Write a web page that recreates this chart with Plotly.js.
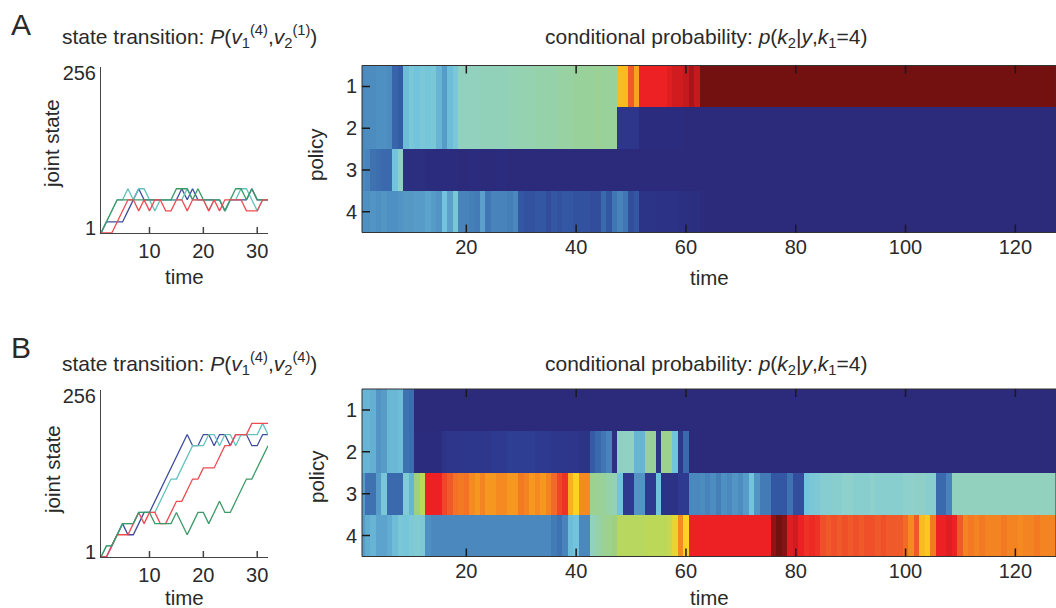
<!DOCTYPE html>
<html><head><meta charset="utf-8">
<script src="https://cdn.plot.ly/plotly-3.0.1.min.js"></script>
<style>html,body{margin:0;padding:0;background:#fff;overflow:hidden}</style></head>
<body><div id="g" style="width:1056px;height:608px"></div>
<script>
const policies = [1,2,3,4];
const time32 = [1,2,3,4,5,6,7,8,9,10,11,12,13,14,15,16,17,18,19,20,21,22,23,24,25,26,27,28,29,30,31,32];
const xTicksLine = [10,20,30];
const xTicksHeat = [20,40,60,80,100,120];
// joint state values
const aBlue  = [1,18,18,18,18,35,52,69,52,52,52,52,52,52,52,69,52,69,52,52,52,52,52,35,52,52,52,52,69,52,52,52];
const aCyan  = [1,18,35,52,52,69,52,69,69,52,35,52,52,52,52,52,69,52,52,52,35,52,52,35,52,52,69,69,52,35,52,52];
const aGreen = [1,18,35,52,52,52,52,52,52,52,52,52,52,52,69,69,69,52,69,52,52,52,52,35,52,69,69,52,69,52,52,52];
const aRed   = [1,1,1,18,35,52,52,35,52,35,52,52,35,35,52,52,35,52,52,52,35,52,35,52,52,52,52,35,35,35,52,52];
// joint state values
const bBlue  = [1,1,18,35,52,35,35,52,69,69,86,103,120,137,154,171,188,171,171,188,188,171,188,188,171,188,188,188,171,171,188,188];
const bCyan  = [1,18,18,35,52,52,52,69,69,69,69,86,103,120,120,137,154,171,171,171,188,188,171,188,188,171,188,188,188,188,205,188];
const bRed   = [1,1,18,35,35,35,52,69,52,69,69,52,52,69,86,86,103,120,120,137,137,137,154,171,171,188,188,188,205,205,205,205];
const bGreen = [1,18,18,35,52,52,52,69,69,69,52,52,52,52,69,52,35,52,69,69,52,69,86,69,69,86,103,120,120,137,154,171];

// conditional probability columns (t = 1..127) on a 0-100 colour index
const aRow1 = [25,26,26,27,27,26,17,15,38,42, 40,42,41,42,36,30,38,42,50,50, 50,50,51,51,51,51,51,52,52,53, 53,53,54,54,54,54,55,55,55,56,
 56,56,56,57,56,56,56,74,74,84, 76,90,90,90,90,90,91,92,92,93, 95,93,100,100,100,100,100,100,100,100, 100,100,100,100,100,100,100,100,100,100,
 100,100,100,100,100,100,100,100,100,100, 100,100,100,100,100,100,100,100,100,100, 100,100,100,100,100,100,100,100,100,100, 100,100,100,100,100,100,100,100,100,100, 100,100,100,100,100,100,100];
const aRow2 = [25,26,26,27,27,26,17,15,38,42, 40,42,41,42,36,30,38,42,50,50, 50,50,51,51,51,51,51,52,52,53, 53,53,54,54,54,54,55,55,55,56,
 56,56,56,57,56,56,56,6,6,6, 6,1,1,1,1,1,1,1,1,0, 0,0,0,0,0,0,0,0,0,0, 0,0,0,0,0,0,0,0,0,0,
 0,0,0,0,0,0,0,0,0,0, 0,0,0,0,0,0,0,0,0,0, 0,0,0,0,0,0,0,0,0,0, 0,0,0,0,0,0,0,0,0,0, 0,0,0,0,0,0,0];
const aRow3 = [25,24,20,19,18,18,40,48,3,2, 2,2,1,1,1,1,1,1,0,0, 1,1,0,0,0,1,1,0,0,0, 0,0,0,0,0,0,0,0,0,0,
 0,0,0,0,0,0,0,0,0,0, 0,0,0,0,0,0,0,0,0,0, 0,0,0,0,0,0,0,0,0,0, 0,0,0,0,0,0,0,0,0,0,
 0,0,0,0,0,0,0,0,0,0, 0,0,0,0,0,0,0,0,0,0, 0,0,0,0,0,0,0,0,0,0, 0,0,0,0,0,0,0,0,0,0, 0,0,0,0,0,0,0];
const aRow4 = [27,27,28,27,28,27,27,28,29,29, 30,30,32,30,28,40,31,42,24,24, 23,22,31,21,24,24,24,23,25,14, 13,13,14,14,12,14,13,14,14,13,
 13,13,12,12,18,14,21,24,21,12, 14,5,5,5,4,4,4,4,3,3, 2,2,1,0,0,0,0,0,0,0, 0,0,0,0,0,0,0,0,0,0,
 0,0,0,0,0,0,0,0,0,0, 0,0,0,0,0,0,0,0,0,0, 0,0,0,0,0,0,0,0,0,0, 0,0,0,0,0,0,0,0,0,0, 0,0,0,0,0,0,0];
const bRow1 = [36,36,35,28,30,37,37,38,20,19, 0,0,0,0,0,0,0,0,0,0, 0,0,0,0,0,0,0,0,0,0, 0,0,0,0,0,0,0,0,0,0,
 0,0,0,0,0,0,0,0,0,0, 0,0,0,0,0,0,0,0,0,0, 0,0,0,0,0,0,0,0,0,0, 0,0,0,0,0,0,0,0,0,0,
 0,0,0,0,0,0,0,0,0,0, 0,0,0,0,0,0,0,0,0,0, 0,0,0,0,0,0,0,0,0,0, 0,0,0,0,0,0,0,0,0,0, 0,0,0,0,0,0,0];
const bRow2 = [36,36,35,28,30,37,37,38,20,19, 1,1,1,1,1,5,6,6,6,7, 7,7,7,7,8,8,8,9,9,9, 9,9,8,8,8,7,7,7,6,6,
 5,5,15,18,21,24,3,48,49,49, 36,36,56,56,5,58,58,40,7,18, 0,0,0,0,0,0,0,0,0,0, 0,0,0,0,0,0,0,0,0,0,
 0,0,0,0,0,0,0,0,0,0, 0,0,0,0,0,0,0,0,0,0, 0,0,0,0,0,0,0,0,0,0, 0,0,0,0,0,0,0,0,0,0, 0,0,0,0,0,0,0];
const bRow3 = [30,20,20,30,42,18,18,18,44,36, 60,66,90,90,90,86,84,81,80,81, 78,77,79,77,77,78,78,77,77,80, 79,77,78,77,79,82,86,88,75,72,
 78,78,58,57,56,54,52,40,8,8, 28,28,8,8,40,4,4,4,8,8, 25,25,26,24,26,23,27,25,28,26, 30,40,28,22,22,14,14,14,20,12,
 12,40,42,43,45,45,46,46,47,47, 46,46,46,47,46,46,46,46,46,47, 47,48,48,46,46,18,18,24,50,50, 50,50,50,50,50,50,50,50,50,50, 50,50,50,50,50,50,50];
const bRow4 = [30,34,36,32,32,34,38,42,41,43, 44,43,27,25,25,25,25,25,25,25, 25,25,25,25,25,25,25,25,25,25, 25,25,25,25,25,22,20,24,38,40,
 25,25,50,54,57,58,60,65,65,65, 65,65,66,66,66,66,67,70,78,72, 90,90,90,90,90,90,90,90,90,90, 90,90,90,90,90,97,100,98,91,92,
 90,88,89,88,85,84,85,84,85,84, 85,84,85,85,84,85,84,84,84,82, 78,84,74,73,80,90,90,91,90,84, 79,80,79,80,79,79,79,80,79,79, 78,79,79,80,79,79,79];

const jet = [[0,'#2b2a7b'],[0.08,'#2d3a90'],[0.16,'#3560a8'],[0.25,'#4a88bd'],[0.33,'#5fa8cf'],[0.40,'#72c4dc'],[0.47,'#8dd0cc'],[0.53,'#95d2b0'],[0.60,'#9fd080'],[0.66,'#bcd858'],[0.72,'#fcd320'],[0.78,'#f58b20'],[0.84,'#f0592a'],[0.90,'#ed2024'],[0.95,'#a81518'],[1,'#731010']];
const cols = Array.from(aRow1, (_, i) => i + 1);
const lineColors = {blue:'#3f4c9e', cyan:'#63c2bc', green:'#3c9a68', red:'#ee4a52'};
const txt = '#2a2a2a', ax = '#444';
const F = 'Liberation Sans, Arial, sans-serif';
const W = 1056, H = 608;
const TS = 20, LS = 20.5, PT = 21;

function hm(xa, ya, rows){
  return {type:'heatmap', x:cols, y:policies, z:rows, xaxis:xa, yaxis:ya, zmin:0, zmax:100,
          colorscale:jet, showscale:false, zsmooth:false};
}
function ln(xa, ya, y, c){
  return {type:'scatter', mode:'lines', x:time32, y:y, xaxis:xa, yaxis:ya, cliponaxis:false,
          line:{color:c, width:1.3}, showlegend:false};
}
const traces = [
  ln('x','y',aBlue,lineColors.blue), ln('x','y',aCyan,lineColors.cyan), ln('x','y',aGreen,lineColors.green), ln('x','y',aRed,lineColors.red),
  ln('x3','y3',bBlue,lineColors.blue), ln('x3','y3',bCyan,lineColors.cyan), ln('x3','y3',bRed,lineColors.red), ln('x3','y3',bGreen,lineColors.green),
  hm('x2','y2',[aRow1,aRow2,aRow3,aRow4]),
  hm('x4','y4',[bRow1,bRow2,bRow3,bRow4])
];
const dx = (a,b)=>[a/W,b/W], dy = (top,bot)=>[1-bot/H,1-top/H];
function lineX(anch){return {domain:dx(101,268),range:[1,32],tickmode:'array',tickvals:xTicksLine,ticks:'',
  showgrid:false,zeroline:false,showline:true,linecolor:ax,linewidth:1,anchor:anch,tickfont:{family:F,size:TS,color:txt}};}
function lineY(top,bot,anch){return {domain:dy(top,bot),range:[1,256],tickmode:'array',tickvals:[8.7,246.8],ticktext:['1','256'],ticks:'',showgrid:false,zeroline:false,
  showline:true,linecolor:ax,linewidth:1,anchor:anch,tickfont:{family:F,size:TS,color:txt}};}
function hmX(anch){return {domain:dx(362,1056),range:[1,127.4],tickmode:'array',tickvals:xTicksHeat,ticks:'',
  showgrid:false,zeroline:false,showline:false,anchor:anch,tickfont:{family:F,size:TS,color:txt}};}
function hmY(top,bot,anch){return {domain:dy(top,bot),range:[4.5,0.5],tickmode:'array',tickvals:policies,ticks:'',ticklabelstandoff:4,
  showgrid:false,zeroline:false,showline:false,anchor:anch,tickfont:{family:F,size:TS,color:txt}};}
function note(x,y,text,size,anchor,rot){return {xref:'paper',yref:'paper',x:x/W,y:1-y/H,text:text,showarrow:false,xanchor:anchor||'center',yanchor:'middle',textangle:rot||0,font:{family:F,size:size,color:txt}};}
// tick marks and frames, placed in axis coordinates
const tickLine = (color)=>({color:color,width:1.5});
function xTick(xa,ya,v,from,to,color){return {type:'line',layer:'above',xref:xa,yref:ya+' domain',x0:v,x1:v,y0:from,y1:to,line:tickLine(color)};}
function yTick(xa,ya,v,to,color){return {type:'line',layer:'above',xref:xa+' domain',yref:ya,x0:0,x1:to,y0:v,y1:v,line:tickLine(color)};}
function frame(xa,ya){return {type:'rect',layer:'above',xref:xa+' domain',yref:ya+' domain',x0:0,x1:1,y0:0,y1:1,line:{color:'#333',width:1},fillcolor:'rgba(0,0,0,0)'};}
const shapes = [];
[['x','y'],['x3','y3']].forEach(([a,b])=>xTicksLine.forEach(v=>shapes.push(xTick(a,b,v,0,6/167,ax))));
[['x2','y2'],['x4','y4']].forEach(([a,b])=>{
  shapes.push(frame(a,b));
  xTicksHeat.forEach(v=>{shapes.push(xTick(a,b,v,0,8/167,'#1a1a1a'));shapes.push(xTick(a,b,v,1,1-8/167,'#1a1a1a'));});
  policies.forEach(v=>shapes.push(yTick(a,b,v,8/694,'#1a1a1a')));
});
const layout = {
  width:W, height:H, margin:{l:0,r:0,t:0,b:0}, paper_bgcolor:'#fff', plot_bgcolor:'#fff', showlegend:false,
  xaxis:lineX('y'), yaxis:lineY(67,233,'x'),
  xaxis2:hmX('y2'), yaxis2:hmY(65.5,232.5,'x2'),
  xaxis3:lineX('y3'), yaxis3:lineY(390,557,'x3'),
  xaxis4:hmX('y4'), yaxis4:hmY(389,556.5,'x4'),
  shapes:shapes,
  annotations:[
    note(9,24,'A',30,'left'), note(9,347.5,'B',30,'left'),
    note(60,37,'state transition: <i>P</i>(<i>v</i><sub>1</sub><sup>(4)</sup>,<i>v</i><sub>2</sub><sup>(1)</sup>)',PT,'left'),
    note(60,363,'state transition: <i>P</i>(<i>v</i><sub>1</sub><sup>(4)</sup>,<i>v</i><sub>2</sub><sup>(4)</sup>)',PT,'left'),
    note(543,38,'conditional probability: <i>p</i>(<i>k</i><sub>2</sub>|<i>y</i>,<i>k</i><sub>1</sub>=4)',PT,'left'),
    note(543,365,'conditional probability: <i>p</i>(<i>k</i><sub>2</sub>|<i>y</i>,<i>k</i><sub>1</sub>=4)',PT,'left'),
    note(184,276,'time',LS), note(709,277,'time',LS), note(184,597,'time',LS), note(709,597,'time',LS),
    note(52,144,'joint state',LS,'center',-90), note(52,470,'joint state',LS,'center',-90),
    note(316,155,'policy',LS,'center',-90), note(316,477,'policy',LS,'center',-90)
  ]
};
Plotly.newPlot('g', traces, layout, {displayModeBar:false, staticPlot:true});
</script></body></html>
